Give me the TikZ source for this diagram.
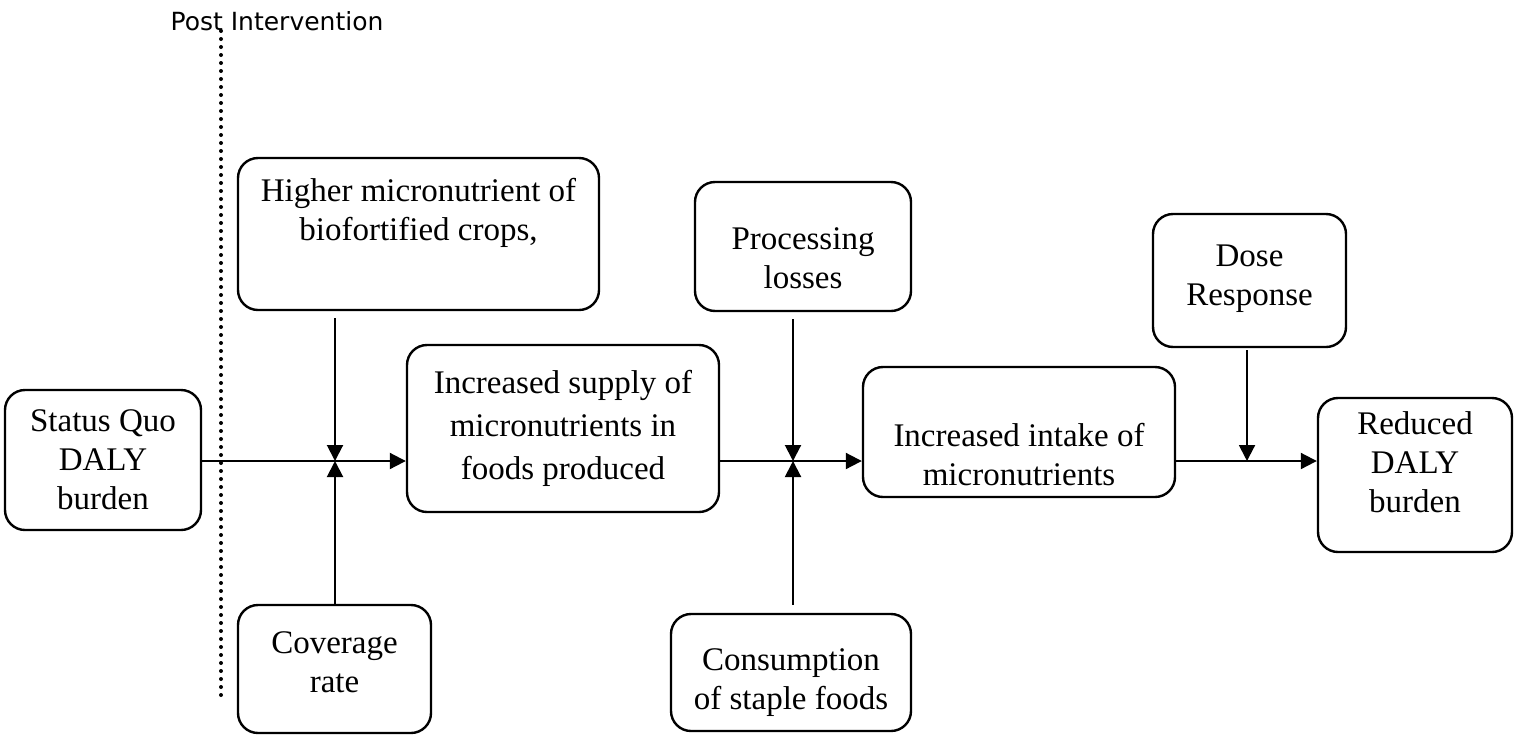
\documentclass[tikz,border=0pt]{standalone}
\usepackage{fontspec}
\setmainfont{Liberation Serif}
\newfontfamily\postfont{DejaVu Sans}
\usetikzlibrary{arrows.meta, positioning, calc}

\tikzset{
  box/.style={rectangle, rounded corners=10pt, draw=black, line width=1.2pt, inner sep=2pt},
  boxtext/.style={align=center, inner sep=0pt, font=\fontsize{16.5}{19.5}\selectfont},
  flow/.style={line width=1pt, black, -{Triangle[length=8pt, width=8pt]}},
  divider/.style={line width=2pt, line cap=round, dash pattern=on 0pt off 4pt}
}

\begin{document}
\begin{tikzpicture}[x=0.5pt, y=-0.5pt]
  \useasboundingbox (0,0) rectangle (1518,734);

  % Intervention divider
  \node[font=\postfont\fontsize{12.5}{14}\selectfont] (post) at (277,21) {Post Intervention};
  \draw[divider] (221,31) -- (221,695);

  % Main chain
  \node[box, minimum width=98pt, minimum height=70pt,
    label={[boxtext]center:Status Quo\\DALY\\burden}] (quo) at (103,460) {};
  \node[box, minimum width=156pt, minimum height=83.5pt,
    label={[boxtext, font=\fontsize{16.5}{21.5}\selectfont]center:Increased supply of\\micronutrients in\\foods produced}] (supply) at (563,428.5) {};
  \node[box, minimum width=156pt, minimum height=65pt,
    label={[boxtext, yshift=-11.5pt]center:Increased intake of\\micronutrients}] (intake) at (1019,432) {};
  \node[box, minimum width=97pt, minimum height=77pt,
    label={[boxtext, yshift=6.5pt]center:Reduced\\DALY\\burden}] (reduced) at (1415,475) {};

  % Factors above and below
  \node[box, minimum width=180.5pt, minimum height=76pt,
    label={[boxtext, yshift=10.5pt]center:Higher micronutrient of\\biofortified crops,}] (higher) at (418.5,234) {};
  \node[box, minimum width=96.5pt, minimum height=64pt,
    label={[boxtext, yshift=3.5pt]center:Coverage\\rate}] (coverage) at (334.5,669) {};
  \node[box, minimum width=108pt, minimum height=64.5pt,
    label={[boxtext, yshift=-6pt]center:Processing\\losses}] (processing) at (803,246.5) {};
  \node[box, minimum width=120pt, minimum height=58.5pt,
    label={[boxtext, yshift=-5pt]center:Consumption\\of staple foods}] (consumption) at (791,672.5) {};
  \node[box, minimum width=96.5pt, minimum height=66.5pt,
    label={[boxtext, yshift=1pt]center:Dose\\Response}] (dose) at (1249.5,280.5) {};

  % Junctions on the main line
  \coordinate (j1) at (335,461);
  \coordinate (j2) at (793,461);
  \coordinate (j3) at (1247,461);

  % Horizontal arrows
  \draw[flow] (quo.east |- j1) -- (supply.west |- j1);
  \draw[flow] (supply.east |- j2) -- (intake.west |- j2);
  \draw[flow] (intake.east |- j3) -- (reduced.west |- j3);

  % Vertical arrows
  \draw[flow, shorten <=3.5pt] (higher.south -| j1) -- (j1);
  \draw[flow] (coverage.north -| j1) -- (j1);
  \draw[flow, shorten <=3.5pt] (processing.south -| j2) -- (j2);
  \draw[flow, shorten <=4pt] (consumption.north -| j2) -- (j2);
  \draw[flow, shorten <=1pt] (dose.south -| j3) -- (j3);
\end{tikzpicture}
\end{document}
